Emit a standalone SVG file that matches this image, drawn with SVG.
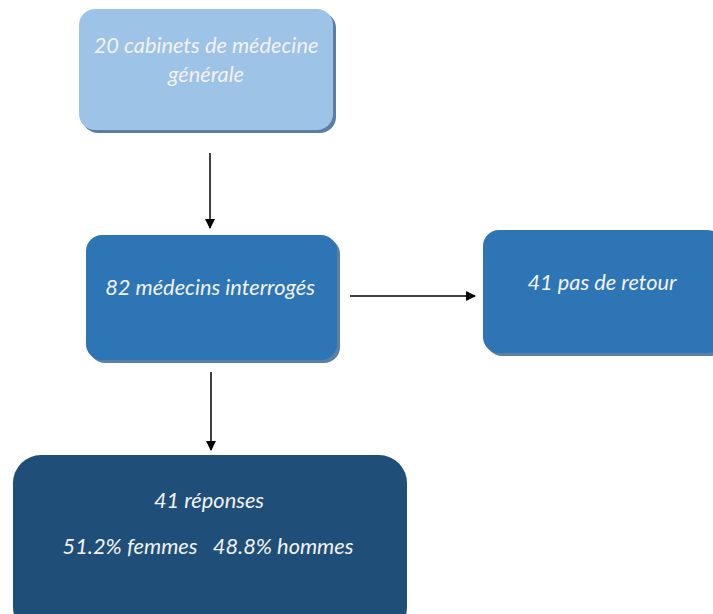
<svg xmlns="http://www.w3.org/2000/svg" width="713" height="614" viewBox="0 0 713 614">
<defs>
<style>
.t{font-family:Lato,"Open Sans","Liberation Sans",sans-serif;font-style:italic;font-size:21.8px;fill:#F2F2F2;text-anchor:middle}
.sh{fill:#2F5F8F;opacity:0.8}
.c{stroke:#000;stroke-width:1.5;fill:none}
</style>
<marker id="a" viewBox="0 0 10 10" refX="9" refY="5" markerWidth="10" markerHeight="10" orient="auto" markerUnits="userSpaceOnUse">
<path d="M0,0 L10,5 L0,10 z" fill="#000"/>
</marker>
</defs>
<rect width="713" height="614" fill="#fff"/>
<g id="n1">
<rect class="sh" x="82" y="12" width="254" height="121" rx="16"/>
<rect x="79" y="9" width="254" height="121" rx="16" fill="#9DC3E6"/>
<text class="t" x="206" y="53">20 cabinets de médecine</text>
<text class="t" x="206" y="82">générale</text>
</g>
<g id="n2">
<rect class="sh" x="89" y="238" width="251" height="125" rx="16"/>
<rect x="86" y="235" width="251" height="125" rx="16" fill="#2E75B6"/>
<text class="t" x="210" y="295">82 médecins interrogés</text>
</g>
<g id="n3">
<rect class="sh" x="486" y="233" width="240" height="123" rx="16"/>
<rect x="483" y="230" width="240" height="123" rx="16" fill="#2E75B6"/>
<text class="t" x="602" y="290">41 pas de retour</text>
</g>
<g id="n4">
<rect x="13" y="455" width="394" height="180" rx="28" fill="#1F4E79"/>
<text class="t" x="209" y="508">41 réponses</text>
<text class="t" x="208" y="554" xml:space="preserve">51.2% femmes   48.8% hommes</text>
</g>
<g id="connectors">
<line class="c" x1="210" y1="153" x2="210" y2="228" marker-end="url(#a)"/>
<line class="c" x1="211" y1="372" x2="211" y2="450" marker-end="url(#a)"/>
<line class="c" x1="350" y1="296" x2="475" y2="296" marker-end="url(#a)"/>
</g>
</svg>
